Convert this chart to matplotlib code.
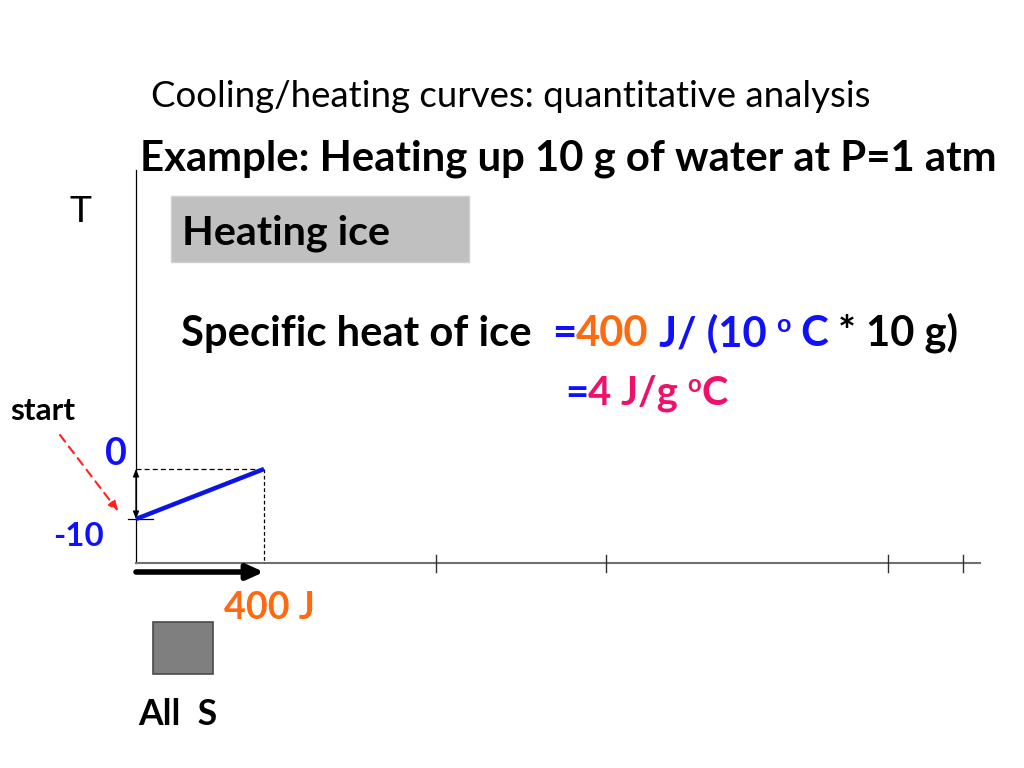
import matplotlib
matplotlib.use("Agg")
import matplotlib.pyplot as plt
from matplotlib.patches import Rectangle

# ---------------- data ----------------
heat_J = [0, 400]            # heat added while heating ice
temp_C = [-10, 0]            # temperature of the ice
energy_ticks_J = [937.5, 1468.75, 2350, 2584]
x_axis_end_J = 2637.5
y_axis_top_C = 59.8
y_axis_bottom_C = -18.8
t_labels = ["0", "-10"]
t_label_values = [0, -10]

W, H = 1024, 768
FONT = ["Lato", "DejaVu Sans"]
BLUE = "#1010ff"
ORANGE = "#ff6a10"
PINK = "#f0106a"

fig = plt.figure(figsize=(W / 100, H / 100), dpi=100)
ax = fig.add_axes([0, 0, 1, 1])
ax.set_xlim(-425, 2775)
ax.set_ylim(-59.8, 93.8)
ax.axis("off")

renderer = fig.canvas.get_renderer()


def P(x, y):
    return (x / W, 1 - y / H)


def width_of(s, size, weight):
    t = fig.text(0, 0, s + "|", fontsize=size, fontweight=weight, family=FONT)
    t2 = fig.text(0, 0, "|", fontsize=size, fontweight=weight, family=FONT)
    w = t.get_window_extent(renderer).width - t2.get_window_extent(renderer).width
    t.remove(); t2.remove()
    return w


def fit_text(s, x0, x1, yb, weight="normal", color="black"):
    base = 20.0
    w = width_of(s, base, weight)
    size = base * (x1 - x0) / w
    fig.text(*P(x0, yb), s, fontsize=size, fontweight=weight, color=color,
             family=FONT, va="baseline", ha="left")
    return size


def rich(parts, x0, x1, yb, weight="bold"):
    base = 20.0
    total = 0
    for s, c, sup in parts:
        total += width_of(s, base * (0.6 if sup else 1), weight)
    size = base * (x1 - x0) / total
    cx = x0
    for s, c, sup in parts:
        fs = size * (0.6 if sup else 1)
        dy = size * 100 / 72 * 0.33 if sup else 0
        fig.text(*P(cx, yb - dy), s, fontsize=fs, fontweight=weight, color=c,
                 family=FONT, va="baseline", ha="left")
        cx += width_of(s, fs, weight)


# ---------------- texts ----------------
fit_text("Cooling/heating curves: quantitative analysis", 151, 872, 107)
fit_text("Example: Heating up 10 g of water at P=1 atm", 140, 998, 170, "bold")
fit_text("T", 70, 92, 222)

# gray box
fig.patches.append(Rectangle(P(171, 262), 298 / W, 66 / H, transform=fig.transFigure,
                             facecolor="#c0c0c0", edgecolor="#d0d0d0", lw=1, zorder=0))
fit_text("Heating ice", 182, 390, 245, "bold")

rich([("Specific heat of ice  ", "black", False), ("=", BLUE, False),
      ("400", ORANGE, False), (" J/ (10 ", BLUE, False), ("o", BLUE, True),
      (" C", BLUE, False), (" * 10 g)", "black", False)], 181, 960, 346)
rich([("=", BLUE, False), ("4 J/g ", PINK, False), ("o", PINK, True),
      ("C", PINK, False)], 565, 727, 405)

fit_text("start", 10, 75, 420, "bold")
fit_text(t_labels[0], 105, 127, 465, "bold", BLUE)
fit_text(t_labels[1], 53, 104, 546, "bold", BLUE)
fit_text("400 J", 224, 315, 619, "bold", ORANGE)
fit_text("All  S", 138, 217, 725, "bold")

# gray square (all solid)
fig.patches.append(Rectangle(P(153, 674), 60 / W, 52 / H, transform=fig.transFigure,
                             facecolor="#7f7f7f", edgecolor="#4a4a4a", lw=1.2))

# ---------------- axes lines ----------------
ax.plot([0, 0], [y_axis_bottom_C, y_axis_top_C], color="black", lw=0.9)
ax.plot([0, x_axis_end_J], [y_axis_bottom_C, y_axis_bottom_C], color="#707070", lw=1.5)
for tj in energy_ticks_J:
    ax.plot([tj, tj], [y_axis_bottom_C + 1.6, y_axis_bottom_C - 1.8], color="#303030", lw=1)

# dashed guides
ax.plot([heat_J[0], heat_J[1]], [temp_C[1], temp_C[1]], color="black", lw=0.9, ls=(0, (4, 2.5)))
ax.plot([heat_J[1], heat_J[1]], [temp_C[1], y_axis_bottom_C], color="black", lw=0.9, ls=(0, (3, 2)))
# -10 tick
ax.plot([-25, 53], [temp_C[0], temp_C[0]], color="black", lw=0.9)

# heating curve
ax.plot(heat_J, temp_C, color="#0a14e6", lw=3.2, solid_capstyle="butt", zorder=5)

# temperature-change double arrow
ax.annotate("", xy=(0, temp_C[1]), xytext=(0, temp_C[0]),
            arrowprops=dict(arrowstyle="<|-|>,head_length=0.45,head_width=0.18",
                            color="black", lw=0.9, shrinkA=0, shrinkB=0))

# heat arrow
ax.annotate("", xy=(heat_J[1], y_axis_bottom_C - 1.8), xytext=(heat_J[0], y_axis_bottom_C - 1.8),
            arrowprops=dict(arrowstyle="-|>,head_length=1.0,head_width=0.45",
                            color="black", lw=4, shrinkA=0, shrinkB=0))

# start pointer
ax.annotate("", xy=(heat_J[0] - 55, temp_C[0] + 1.5), xycoords="data",
            xytext=P(60, 435), textcoords="figure fraction",
            arrowprops=dict(arrowstyle="-|>,head_length=0.6,head_width=0.25",
                            color="#ff2020", lw=1.5, ls=(0, (4, 3)), shrinkA=0, shrinkB=0))

fig.savefig("out.png", dpi=100, facecolor="white")
